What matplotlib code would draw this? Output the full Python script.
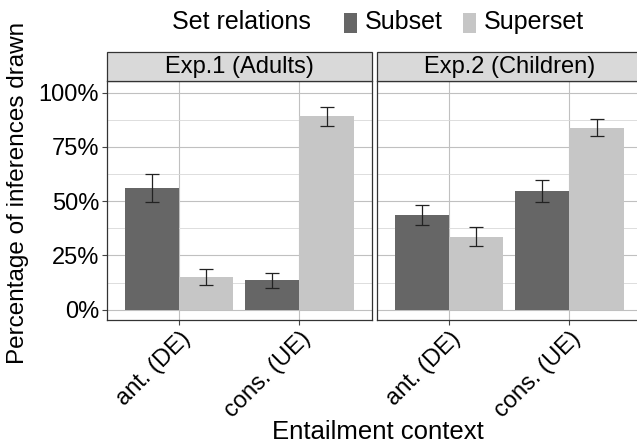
import matplotlib
matplotlib.use('Agg')
import matplotlib.pyplot as plt
from matplotlib.patches import Rectangle
import numpy as np

plt.rcParams['font.family'] = ['Liberation Sans', 'DejaVu Sans']

contexts = ["ant. (DE)", "cons. (UE)"]
relations = ["Subset", "Superset"]
panels = ["Exp.1 (Adults)", "Exp.2 (Children)"]
colors = ["#666666", "#C6C6C6"]

# percentages [panel][relation][context]
means = [
    [[56.0, 13.5], [15.0, 89.0]],
    [[43.5, 54.5], [33.7, 83.7]],
]
errs = [
    [[6.5, 3.5], [3.7, 4.2]],
    [[4.5, 5.1], [4.2, 3.9]],
]

fig = plt.figure(figsize=(6.37, 4.45), dpi=100)
W, H = 637, 445
panel_left = [106.7, 376.7]
panel_w = 265
top, bottom = 81, 320
strip_top = 52

x = np.arange(1, len(contexts) + 1)
bw = 0.45
for p in range(2):
    ax = fig.add_axes([panel_left[p] / W, 1 - bottom / H, panel_w / W, (bottom - top) / H])
    ax.set_xlim(0.4, 2.6)
    ax.set_ylim(-4.7, 105.3)
    ax.set_yticks([0, 25, 50, 75, 100])
    ax.set_yticks([12.5, 37.5, 62.5, 87.5], minor=True)
    ax.grid(True, which='major', color='#C0C0C0', lw=0.8)
    ax.grid(True, which='minor', axis='y', color='#D8D8D8', lw=0.6)
    ax.set_axisbelow(True)
    for r in range(2):
        off = (r - 0.5) * bw
        ax.bar(x + off, means[p][r], width=bw, color=colors[r], zorder=2)
        ax.errorbar(x + off, means[p][r], yerr=errs[p][r], fmt='none',
                    ecolor='#222222', elinewidth=0.9, capsize=5, capthick=0.9, zorder=3)
    ax.set_xticks(x)
    ax.set_xticklabels(contexts, rotation=45, ha='right', va='top',
                       rotation_mode='anchor', fontsize=17)
    ax.tick_params(axis='both', which='major', length=3.5, color='#444444', labelsize=17, pad=2)
    ax.tick_params(axis='y', which='minor', length=0)
    for s in ax.spines.values():
        s.set_color('#333333')
        s.set_linewidth(0.9)
    if p == 0:
        ax.set_yticklabels([f"{v}%" for v in [0, 25, 50, 75, 100]])
    else:
        ax.set_yticklabels([])
        ax.tick_params(axis='y', length=0)
    # strip
    fig.patches.append(Rectangle((panel_left[p] / W, 1 - top / H), panel_w / W,
                                 (top - strip_top) / H, transform=fig.transFigure,
                                 facecolor='#D9D9D9', edgecolor='#333333', lw=0.9))
    fig.text((panel_left[p] + panel_w / 2) / W, 1 - (top + strip_top) / 2 / H, panels[p],
             ha='center', va='center', fontsize=17)

fig.text(378 / W, 1 - 432 / H, "Entailment context", ha='center', va='center', fontsize=18.5)
fig.text(18 / W, 1 - 193 / H, "Percentage of inferences drawn", ha='center', va='center',
         rotation=90, fontsize=17.5)

# legend
ly = 1 - 22 / H
fig.text(172 / W, ly, "Set relations", ha='left', va='center', fontsize=18)
for lx, tx, c, lab in [(344, 365, colors[0], relations[0]), (463, 484, colors[1], relations[1])]:
    fig.patches.append(Rectangle((lx / W, 1 - 33 / H), 12.5 / W, 20 / H,
                                 transform=fig.transFigure, facecolor=c, edgecolor='none'))
    fig.text(tx / W, ly, lab, ha='left', va='center', fontsize=18)

plt.savefig("out.png", dpi=100)
plt.close()
